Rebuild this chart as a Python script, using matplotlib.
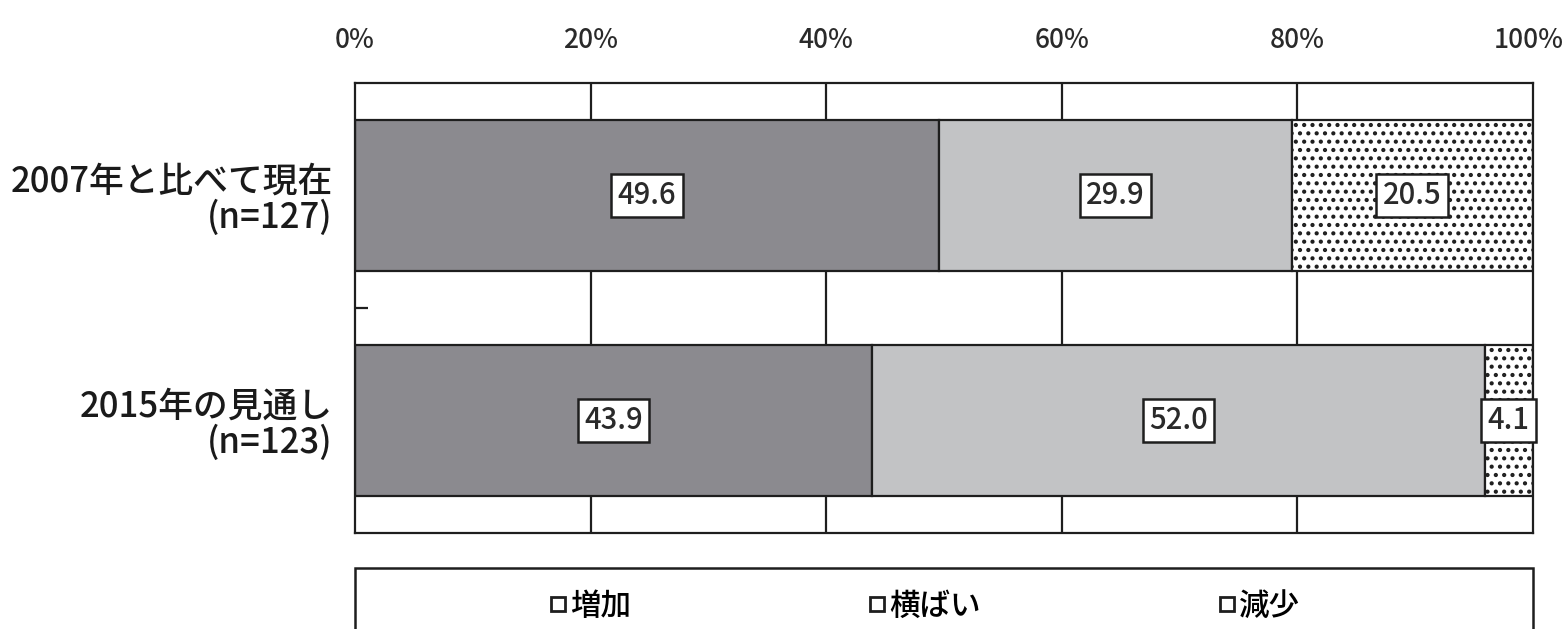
import numpy as np
import matplotlib.pyplot as plt
from matplotlib.patches import Rectangle
from matplotlib.lines import Line2D

plt.rcParams['font.family'] = ['Noto Sans CJK JP', 'DejaVu Sans']
plt.rcParams['font.weight'] = 'medium'
plt.rcParams['hatch.linewidth'] = 1.8

categories = ['2007年と比べて現在\n(n=127)', '2015年の見通し\n(n=123)']
series = ['増加', '横ばい', '減少']
increase = [49.6, 43.9]
flat = [29.9, 52.0]
decrease = [20.5, 4.1]
xticks = [0, 20, 40, 60, 80, 100]
xticklabels = ['0%', '20%', '40%', '60%', '80%', '100%']

W, H = 1566, 629
fig = plt.figure(figsize=(W / 100, H / 100), dpi=100)
ax = fig.add_axes([355 / W, 1 - 533 / H, 1178 / W, 450 / H])

y = np.arange(len(categories))
h = 0.67
ink = '#1e1e1e'

# vertical grid behind bars
for g in xticks[1:-1]:
    ax.axvline(g, color=ink, lw=1.6, zorder=0)

styles = [
    dict(color='#8b8a8f', hatch=None),
    dict(color='#c2c3c5', hatch=None),
    dict(color='white', hatch='..'),
]
left = np.zeros(len(categories))
for vals, st in zip([increase, flat, decrease], styles):
    vals = np.array(vals)
    ax.barh(y, vals, left=left, height=h, color=st['color'], edgecolor=ink,
            linewidth=1.6, hatch=st['hatch'], zorder=2)
    for yi, l, v in zip(y, left, vals):
        ax.text(l + v / 2, yi, f'{v:.1f}', ha='center', va='center',
                fontsize=21, color='#2a2a2a', zorder=5, clip_on=False,
                bbox=dict(boxstyle='square,pad=0.22', facecolor='white',
                          edgecolor=ink, linewidth=1.8))
    left += vals

ax.set_xlim(0, 100)
ax.set_ylim(1.5, -0.5)
ax.xaxis.tick_top()
ax.set_xticks(xticks)
ax.set_xticklabels(xticklabels, fontsize=19, color='#2a2a2a')
ax.tick_params(axis='x', length=0, pad=21)
# keep "100%" inside the figure edge
ax.get_xticklabels()[-1].set_horizontalalignment('right')
ax.get_xticklabels()[-1].set_x(1.0)
from matplotlib.transforms import ScaledTranslation
last = ax.get_xticklabels()[-1]
last.set_transform(last.get_transform() + ScaledTranslation(0.31, 0, fig.dpi_scale_trans))

ax.set_yticks(y)
ax.set_yticklabels(categories, fontsize=25, color='#1a1a1a',
                   multialignment='right', linespacing=1.0)
ax.tick_params(axis='y', which='major', length=0, pad=16)
ax.set_yticks([0.5], minor=True)
ax.tick_params(axis='y', which='minor', direction='in', length=9,
               width=1.6, color=ink)

for sp in ax.spines.values():
    sp.set_linewidth(1.6)
    sp.set_color(ink)

# legend frame along the bottom
fig.patches.append(Rectangle((355 / W, -0.05), 1178 / W, 1 - 568 / H + 0.05,
                             transform=fig.transFigure, facecolor='white',
                             edgecolor=ink, linewidth=1.8))
handles = [Line2D([], [], marker='s', linestyle='none', markersize=10,
                  markerfacecolor='white', markeredgecolor=ink,
                  markeredgewidth=2.0) for _ in series]
fig.legend(handles, series, loc='center', ncol=3, frameon=False,
           bbox_to_anchor=(925 / W, 1 - 606 / H), fontsize=22,
           handlelength=0.5, handletextpad=0.15, columnspacing=7.8)

fig.savefig('out.png', dpi=100, facecolor='white')
